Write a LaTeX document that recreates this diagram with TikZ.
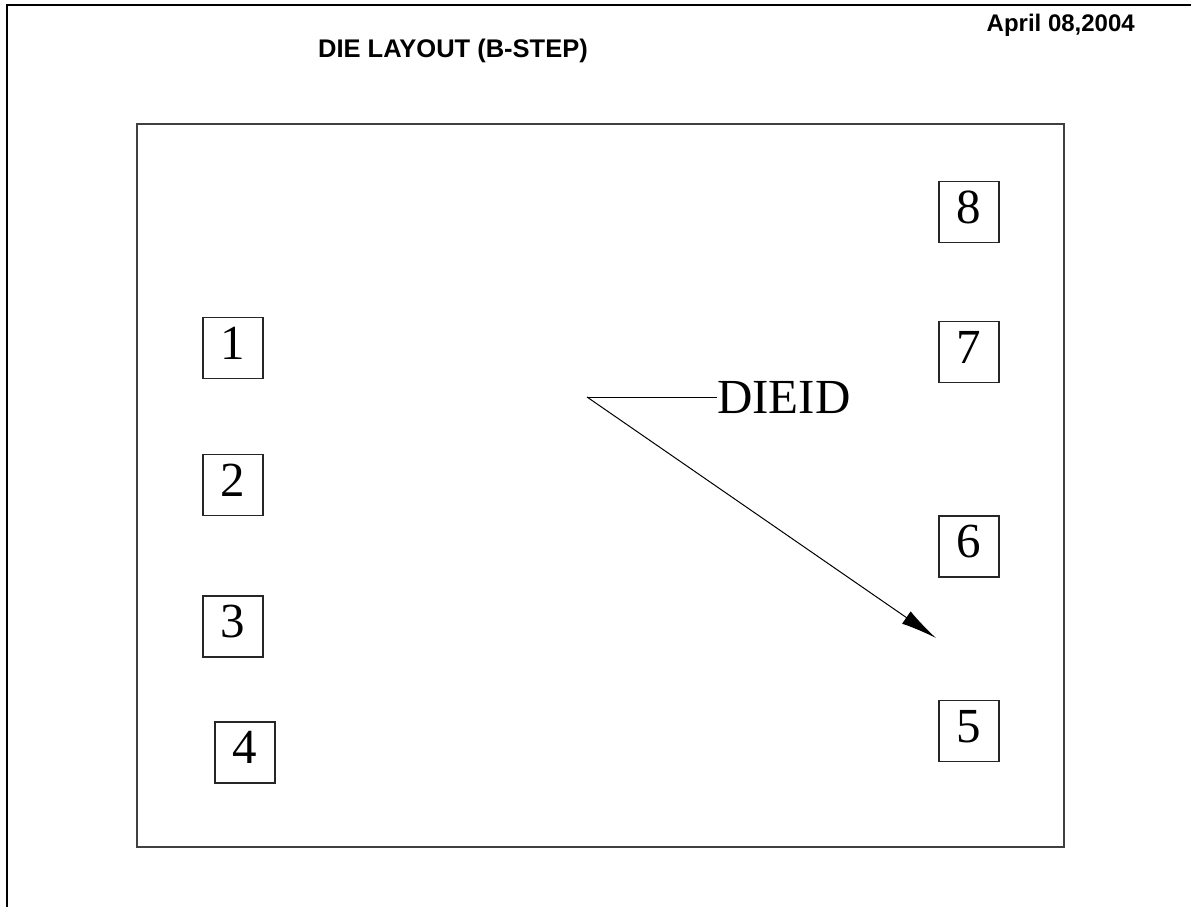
\documentclass[tikz,border=0pt]{standalone}
\usepackage{fontspec}
\setmainfont{Liberation Serif}
\newfontfamily\arialfont{Liberation Sans}
\usetikzlibrary{arrows.meta}
\tikzset{
  pad/.style={draw=black!85, line width=1.6pt, minimum width=60pt, minimum height=61pt,
    inner sep=0pt, text height=33pt, text depth=11pt,
    font=\fontsize{49}{55}\selectfont},
  hdr/.style={font=\arialfont\bfseries\fontsize{24}{28}\selectfont, inner sep=0pt},
  border/.style={line width=2.2pt, black},
  die/.style={line width=2pt, draw=black!75}
}
\begin{document}
\begin{tikzpicture}[x=1pt,y=-1pt]
\useasboundingbox (0,0) rectangle (1191,907);
% outer frame (top and left sides)
\draw[border] (1191,5) -- (7,5) -- (7,907);
% header texts
\node[hdr, anchor=base east] (date) at (1135,32) {April 08,2004};
\node[hdr, anchor=base, font=\arialfont\bfseries\fontsize{25.5}{30}\selectfont] (title) at (453,58) {DIE LAYOUT (B-STEP)};
% die outline
\draw[die] (137,124) rectangle (1064,847);
% pads
\node[pad] (p1) at (233,348) {1};
\node[pad] (p2) at (233,485) {2};
\node[pad] (p3) at (233,626.5) {3};
\node[pad] (p4) at (245,752.5) {4};
\node[pad] (p8) at (969,212) {8};
\node[pad] (p7) at (969,352) {7};
\node[pad] (p6) at (969,546.5) {6};
\node[pad] (p5) at (969,731) {5};
% DIEID label and arrow
\node[font=\fontsize{49}{55}\selectfont, anchor=base west, inner sep=0pt] (dieid) at (717,413) {DIEID};
\coordinate (v) at (587,397);
\coordinate (tip) at (936,638);
\draw[line width=1pt] (v) -- (dieid.west |- v);
\draw[line width=1pt, -{Latex[length=36pt,width=15pt]}] (v) -- (tip);
\end{tikzpicture}
\end{document}
